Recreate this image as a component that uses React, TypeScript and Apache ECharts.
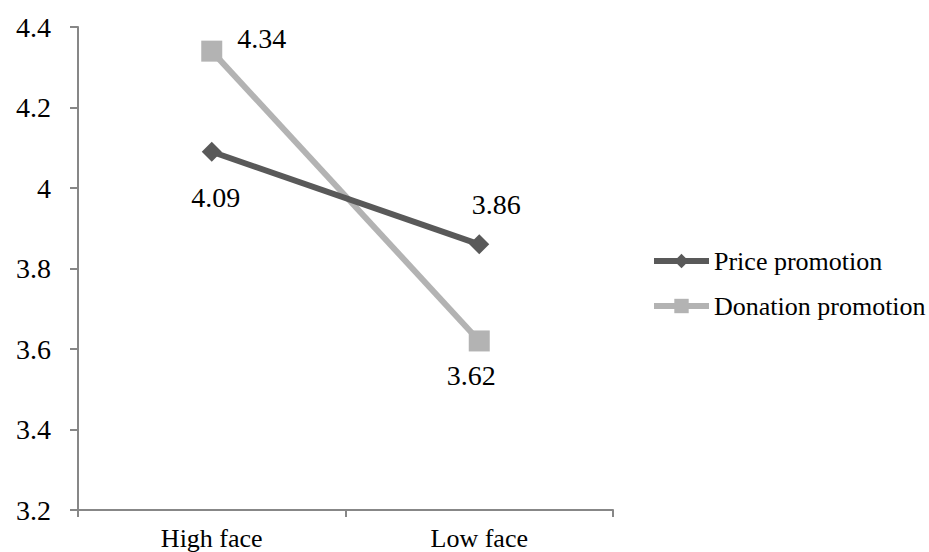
import React, { useEffect, useRef } from "react";
import * as echarts from "echarts";

const categories = ["High face", "Low face"];
const priceValues = [4.09, 3.86];
const donationValues = [4.34, 3.62];
const priceLabelOffsets = [[4, 46], [17, -40]];
const donationLabelOffsets = [[50, -13], [-8, 35]];
const yMin = 3.2;
const yMax = 4.4;
const yInterval = 0.2;

const FONT = "Liberation Serif";

export default function App() {
  const ref = useRef<HTMLDivElement>(null);
  useEffect(() => {
    if (!ref.current) return;
    const chart = echarts.init(ref.current, null, { renderer: "svg" });
    const mk = (vals: number[], offs: number[][]) =>
      vals.map((v, i) => ({
        value: v,
        label: { offset: offs[i] },
      }));
    chart.setOption({
      animation: false,
      textStyle: { fontFamily: FONT },
      grid: { left: 78, right: 316, top: 27, bottom: 42 },
      legend: {
        orient: "vertical",
        left: 646,
        top: 243,
        itemWidth: 55,
        itemHeight: 18,
        itemGap: 19,
        lineStyle: { width: 6 },
        textStyle: { fontFamily: FONT, fontSize: 26, color: "#000", lineHeight: 26 },
        data: ["Price promotion", "Donation promotion"],
      },
      xAxis: {
        type: "category",
        data: categories,
        boundaryGap: true,
        axisLine: { lineStyle: { color: "#878787", width: 2 } },
        axisTick: { show: true, length: 7, lineStyle: { color: "#878787", width: 2 } },
        axisLabel: { fontFamily: FONT, fontSize: 26, color: "#000", margin: 15 },
        splitLine: { show: false },
      },
      yAxis: {
        type: "value",
        min: yMin,
        max: yMax,
        interval: yInterval,
        axisLine: { show: true, lineStyle: { color: "#878787", width: 2 } },
        axisTick: { show: true, length: 8, lineStyle: { color: "#878787", width: 2 } },
        axisLabel: { fontFamily: FONT, fontSize: 28, color: "#000", margin: 27 },
        splitLine: { show: false },
      },
      series: [
        {
          name: "Price promotion",
          type: "line",
          data: mk(priceValues, priceLabelOffsets),
          symbol: "diamond",
          symbolSize: 20,
          lineStyle: { color: "#595959", width: 6 },
          itemStyle: { color: "#595959" },
          label: {
            show: true,
            position: "inside",
            align: "center",
            verticalAlign: "middle",
            fontFamily: FONT,
            fontSize: 28,
            color: "#000",
          },
          z: 3,
        },
        {
          name: "Donation promotion",
          type: "line",
          data: mk(donationValues, donationLabelOffsets),
          symbol: "rect",
          symbolSize: 21,
          lineStyle: { color: "#b3b3b3", width: 6 },
          itemStyle: { color: "#b3b3b3" },
          label: {
            show: true,
            position: "inside",
            align: "center",
            verticalAlign: "middle",
            fontFamily: FONT,
            fontSize: 28,
            color: "#000",
          },
          z: 2,
        },
      ],
    });
    return () => chart.dispose();
  }, []);
  return <div ref={ref} style={{ width: 929, height: 552, position: "absolute", left: 0, top: 0, background: "#fff" }} />;
}
